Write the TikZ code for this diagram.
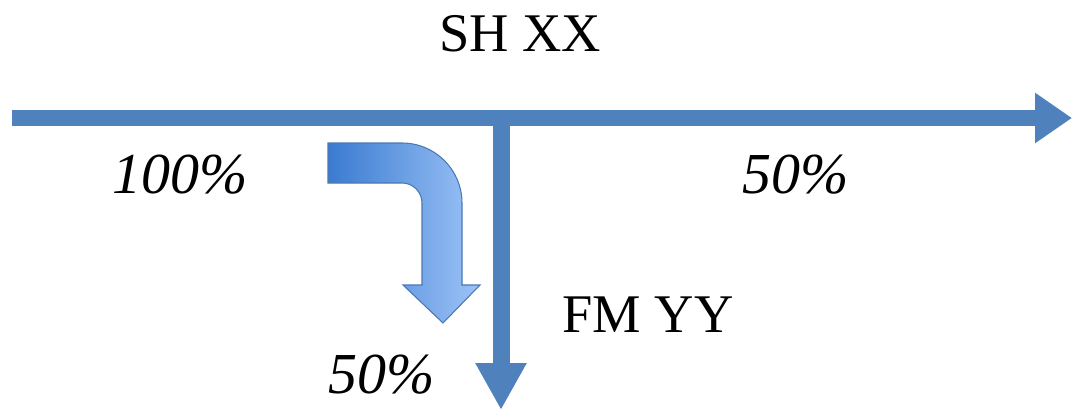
\documentclass[tikz,border=0pt]{standalone}
\usepackage{fontspec}
\setmainfont{Liberation Serif}
\usepackage{tikz}
\usetikzlibrary{arrows.meta,positioning}
\definecolor{flowblue}{HTML}{4F81BD}
\definecolor{bendleft}{HTML}{3A7BD0}
\definecolor{bendright}{HTML}{9DC3F7}
\definecolor{bendedge}{HTML}{4A78B4}

\begin{document}
\begin{tikzpicture}[
      x=0.02cm,y=0.02cm,
      flow/.style={draw=flowblue,line width=0.32cm,-{Triangle[length=0.74cm,width=0.96cm]}},
      branch/.style={draw=flowblue,line width=0.34cm,-{Triangle[length=0.94cm,width=0.96cm]}},
      turnarrow/.style={draw=bendedge,line width=0.6pt,left color=bendleft,right color=bendright},
      tag/.style={inner sep=0pt,anchor=base,font=\fontsize{31}{36}\selectfont},
      share/.style={inner sep=0pt,anchor=base,font=\fontsize{33}{38}\selectfont\itshape}
    ]
    \useasboundingbox (0,0) rectangle (1073,410);
    \coordinate (inlet) at (12,292);
    \coordinate (outlet) at (1072,292);
    \coordinate (split) at (501,292);
    \coordinate (drain) at (501,0);
    \draw[branch] (split) -- (drain);
    \draw[flow] (inlet) -- (outlet);
    % bent arrow showing the share taken off
    \path[turnarrow] (328,267) -- (402,267) arc[start angle=90,end angle=0,radius=60]
      -- (462,125) -- (480,125) -- (443,87) -- (403,125) -- (422,125)
      -- (422,207) arc[start angle=0,end angle=90,radius=20] -- (328,227) -- cycle;
    \node[tag] (sh) at (520,358) {SH XX};
    \node[tag] (fm) at (648,78) {FM YY};
    \node[share] (full) at (180,217) {100\%};
    \node[share] (rest) at (796,217) {50\%};
    \node[share] (taken) at (382,17) {50\%};
  \end{tikzpicture}
\end{document}
